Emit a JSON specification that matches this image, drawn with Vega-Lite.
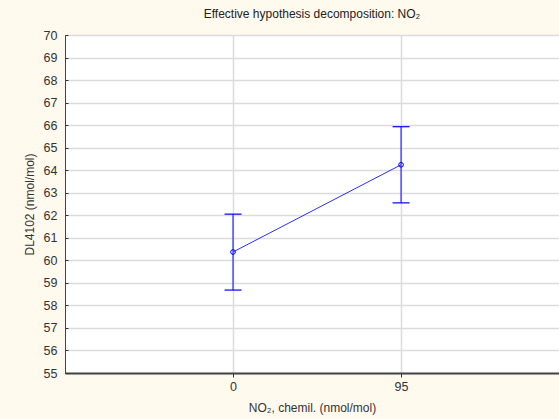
{
  "$schema": "https://vega.github.io/schema/vega-lite/v6.json",
  "autosize": {"type": "none"},
  "width": 494,
  "height": 338,
  "padding": {"left": 65, "top": 35, "right": 0, "bottom": 46},
  "background": "#FFF9EE",
  "title": {
    "text": "Effective hypothesis decomposition: NO₂",
    "font": "Liberation Sans",
    "fontSize": 12,
    "fontWeight": "normal",
    "color": "#222222",
    "offset": 8
  },
  "config": {
    "view": {"fill": "#FFFFFF", "stroke": "#444444", "strokeWidth": 1},
    "axis": {
      "labelFont": "Liberation Sans",
      "titleFont": "Liberation Sans",
      "labelFontSize": 12.5,
      "titleFontSize": 12,
      "titleFontWeight": "normal",
      "labelColor": "#333333",
      "titleColor": "#333333",
      "labelOverlap": false,
      "gridColor": "#DCDCDC",
      "gridWidth": 1.5,
      "gridOpacity": 1,
      "domainColor": "#444444",
      "tickColor": "#333333"
    },
    "axisY": {
      "tickSize": -3,
      "labelPadding": 11,
      "titlePadding": 7,
      "labelOverlap": false,
      "tickCount": 16
    }
  },
  "data": {
    "values": [
      {"no2": 0, "mean": 60.37, "lo": 58.68, "hi": 62.05},
      {"no2": 95, "mean": 64.24, "lo": 62.55, "hi": 65.93}
    ]
  },
  "encoding": {
    "x": {
      "field": "no2",
      "type": "quantitative",
      "scale": {"domain": [-95, 184.3], "nice": false, "zero": false},
      "axis": {
        "values": [0, 95],
        "title": "NO₂, chemil. (nmol/mol)",
        "tickSize": 4,
        "labelPadding": 3,
        "titlePadding": 10,
        "domainWidth": 2
      }
    }
  },
  "layer": [
    {
      "mark": {"type": "rule", "color": "#0000FF", "strokeWidth": 1},
      "encoding": {
        "y": {
          "field": "lo",
          "type": "quantitative",
          "scale": {"domain": [55, 70], "nice": false, "zero": false},
          "axis": {"values": [55, 56, 57, 58, 59, 60, 61, 62, 63, 64, 65, 66, 67, 68, 69, 70], "tickCount": 16, "title": "DL4102 (nmol/mol)"}
        },
        "y2": {"field": "hi"}
      }
    },
    {
      "mark": {"type": "tick", "orient": "horizontal", "color": "#0000FF", "size": 17, "thickness": 1.2, "opacity": 1},
      "encoding": {"y": {"field": "lo", "type": "quantitative", "axis": {"values": [55, 56, 57, 58, 59, 60, 61, 62, 63, 64, 65, 66, 67, 68, 69, 70], "tickCount": 16, "title": "DL4102 (nmol/mol)"}}}
    },
    {
      "mark": {"type": "tick", "orient": "horizontal", "color": "#0000FF", "size": 17, "thickness": 1.2, "opacity": 1},
      "encoding": {"y": {"field": "hi", "type": "quantitative", "axis": {"values": [55, 56, 57, 58, 59, 60, 61, 62, 63, 64, 65, 66, 67, 68, 69, 70], "tickCount": 16, "title": "DL4102 (nmol/mol)"}}}
    },
    {
      "mark": {"type": "line", "color": "#2E2EFF", "strokeWidth": 1},
      "encoding": {"y": {"field": "mean", "type": "quantitative", "axis": {"values": [55, 56, 57, 58, 59, 60, 61, 62, 63, 64, 65, 66, 67, 68, 69, 70], "tickCount": 16, "title": "DL4102 (nmol/mol)"}}}
    },
    {
      "mark": {"type": "point", "shape": "circle", "filled": false, "color": "#0000FF", "size": 22, "strokeWidth": 1, "opacity": 1},
      "encoding": {"y": {"field": "mean", "type": "quantitative", "axis": {"values": [55, 56, 57, 58, 59, 60, 61, 62, 63, 64, 65, 66, 67, 68, 69, 70], "tickCount": 16, "title": "DL4102 (nmol/mol)"}}}
    }
  ]
}
